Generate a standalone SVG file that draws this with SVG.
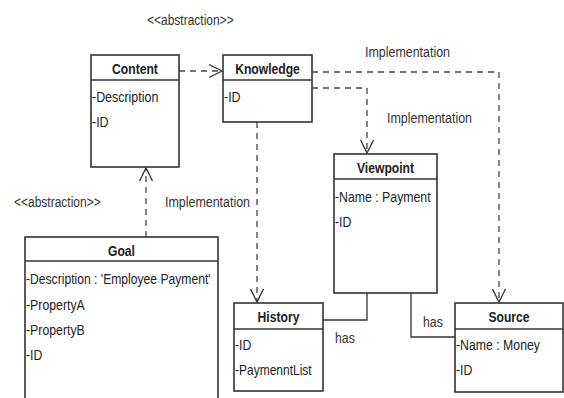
<svg xmlns="http://www.w3.org/2000/svg" width="564" height="398" viewBox="0 0 564 398">
  <style>
    .box { fill: #ffffff; stroke: #333333; stroke-width: 1.6; }
    .div { stroke: #333333; stroke-width: 1.6; }
    text { font-family: "Liberation Sans", Arial, sans-serif; font-size: 15px; }
    .title { font-weight: bold; fill: #222222; text-anchor: middle; }
    .attr { fill: #222222; }
    .lbl { fill: #333333; }
    .dash { fill: none; stroke: #444444; stroke-width: 1.3; stroke-dasharray: 6 5; }
    .solid { fill: none; stroke: #333333; stroke-width: 1.3; }
  </style>
  <defs>
    <marker id="open" viewBox="0 0 16 16" refX="14" refY="8" markerWidth="16" markerHeight="16" markerUnits="userSpaceOnUse" orient="auto">
      <path d="M1,1.5 L14,8 L1,14.5" fill="none" stroke="#333333" stroke-width="1.3"/>
    </marker>
  </defs>
  <rect width="564" height="398" fill="#ffffff"/>

  <!-- connectors; all text is narrowed horizontally with scale(x,1) -->
  <g id="connectors">
    <path class="dash" d="M179,71 H222" marker-end="url(#open)"/>
    <path class="dash" d="M146,237 V168" marker-end="url(#open)"/>
    <path class="dash" d="M257,122 V302" marker-end="url(#open)"/>
    <path class="dash" d="M312,88 H367 V153" marker-end="url(#open)"/>
    <path class="dash" d="M312,72 H499 V302" marker-end="url(#open)"/>
    <path class="solid" d="M323,320 H367 V293"/>
    <path class="solid" d="M411,293 V337 H455"/>
    <text class="lbl" transform="translate(147,25) scale(0.8,1)">&lt;&lt;abstraction&gt;&gt;</text>
    <text class="lbl" transform="translate(14,207) scale(0.8,1)">&lt;&lt;abstraction&gt;&gt;</text>
    <text class="lbl" transform="translate(165,207) scale(0.83,1)">Implementation</text>
    <text class="lbl" transform="translate(365,57) scale(0.83,1)">Implementation</text>
    <text class="lbl" transform="translate(387,123) scale(0.83,1)">Implementation</text>
    <text class="lbl" transform="translate(335,343) scale(0.82,1)">has</text>
    <text class="lbl" transform="translate(423,327) scale(0.82,1)">has</text>
  </g>

  <g id="content">
    <rect class="box" x="91" y="55" width="88" height="112"/>
    <line class="div" x1="91" y1="80" x2="179" y2="80"/>
    <text class="title" transform="translate(135,74) scale(0.81,1)">Content</text>
    <text class="attr" transform="translate(92,102) scale(0.83,1)">-Description</text>
    <text class="attr" transform="translate(92,127) scale(0.83,1)">-ID</text>
  </g>

  <g id="knowledge">
    <rect class="box" x="223" y="55" width="89" height="67"/>
    <line class="div" x1="223" y1="80" x2="312" y2="80"/>
    <text class="title" transform="translate(267.5,74) scale(0.81,1)">Knowledge</text>
    <text class="attr" transform="translate(224,102) scale(0.83,1)">-ID</text>
  </g>

  <g id="goal">
    <rect class="box" x="25" y="237" width="193" height="180"/>
    <line class="div" x1="25" y1="261" x2="218" y2="261"/>
    <text class="title" transform="translate(121.5,256) scale(0.81,1)">Goal</text>
    <text class="attr" transform="translate(26,284) scale(0.81,1)">-Description : 'Employee Payment'</text>
    <text class="attr" transform="translate(26,310) scale(0.82,1)">-PropertyA</text>
    <text class="attr" transform="translate(26,335) scale(0.82,1)">-PropertyB</text>
    <text class="attr" transform="translate(26,360) scale(0.82,1)">-ID</text>
  </g>

  <g id="viewpoint">
    <rect class="box" x="334" y="154" width="103" height="139"/>
    <line class="div" x1="334" y1="179" x2="437" y2="179"/>
    <text class="title" transform="translate(385.5,173) scale(0.81,1)">Viewpoint</text>
    <text class="attr" transform="translate(335,202) scale(0.82,1)">-Name : Payment</text>
    <text class="attr" transform="translate(335,227) scale(0.82,1)">-ID</text>
  </g>

  <g id="history">
    <rect class="box" x="234" y="303" width="89" height="88"/>
    <line class="div" x1="234" y1="329" x2="323" y2="329"/>
    <text class="title" transform="translate(278.5,322) scale(0.81,1)">History</text>
    <text class="attr" transform="translate(235,350) scale(0.82,1)">-ID</text>
    <text class="attr" transform="translate(235,375) scale(0.8,1)">-PaymenntList</text>
  </g>

  <g id="source">
    <rect class="box" x="455" y="303" width="108" height="89"/>
    <line class="div" x1="455" y1="329" x2="563" y2="329"/>
    <text class="title" transform="translate(509,322) scale(0.81,1)">Source</text>
    <text class="attr" transform="translate(456,350) scale(0.82,1)">-Name : Money</text>
    <text class="attr" transform="translate(456,375) scale(0.82,1)">-ID</text>
  </g>
</svg>
